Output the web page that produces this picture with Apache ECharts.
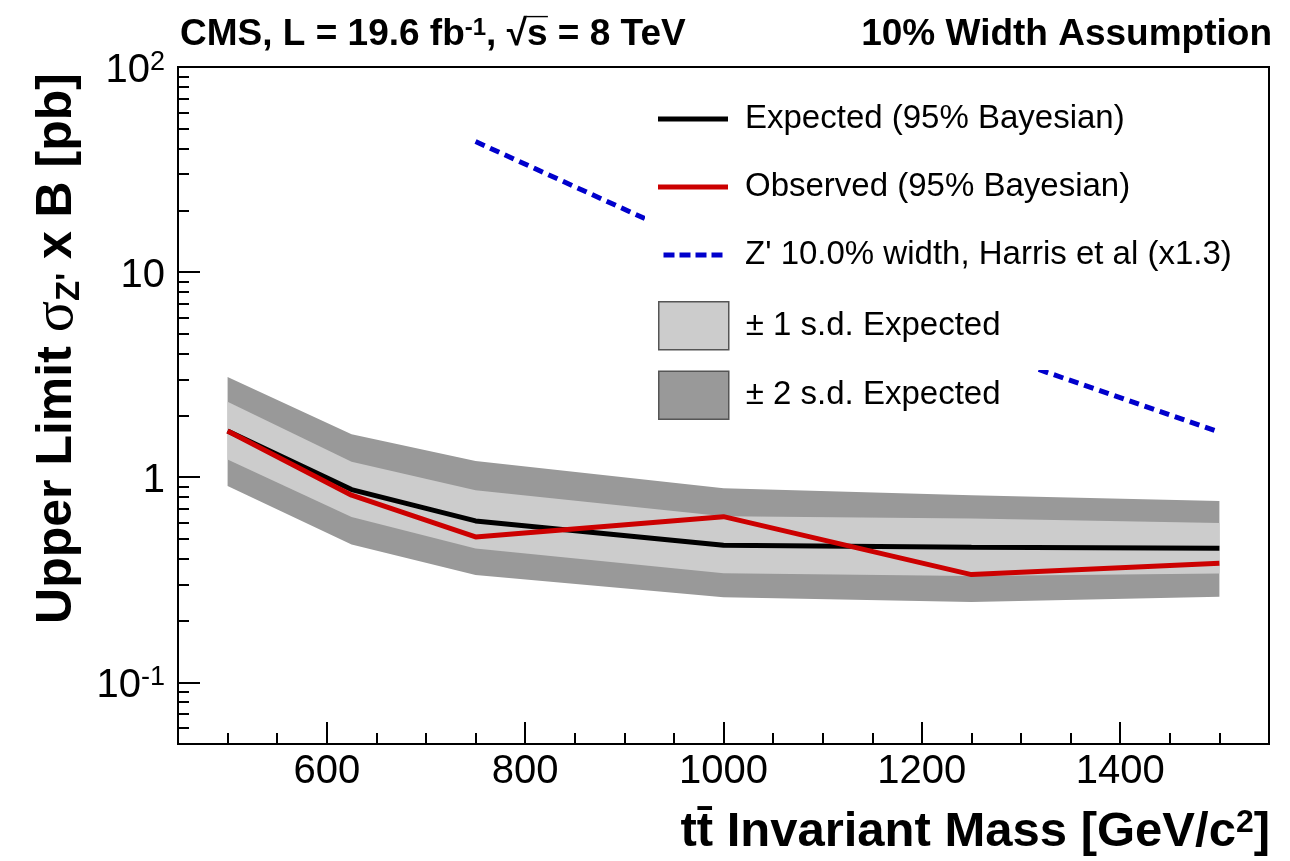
<!DOCTYPE html>
<html><head><meta charset="utf-8">
<script src="https://cdn.jsdelivr.net/npm/echarts@6/dist/echarts.min.js"></script>
<style>html,body{margin:0;padding:0;background:#fff}#c{width:1290px;height:861px}</style>
</head><body><div id="c"></div>
<script>
const mass = [500, 625, 750, 1000, 1250, 1500];
const expected = [1.68, 0.87, 0.612, 0.466, 0.455, 0.450];
const observed = [1.68, 0.817, 0.511, 0.642, 0.335, 0.380];
const band1Up = [2.33, 1.19, 0.863, 0.645, 0.628, 0.598];
const band1Lo = [1.22, 0.64, 0.449, 0.340, 0.330, 0.339];
const band2Up = [3.08, 1.62, 1.20, 0.883, 0.817, 0.766];
const band2Lo = [0.906, 0.469, 0.333, 0.260, 0.246, 0.261];
const zpMass = [750, 1000, 1250, 1500];
const zpXsec = [43.3, 12.2, 4.35, 1.66];
const xMajorTicks = [600, 800, 1000, 1200, 1400];
const xMinorTicks = [500, 550, 650, 700, 750, 850, 900, 950, 1050, 1100, 1150, 1250, 1300, 1350, 1450, 1500];
const yMajorTicks = [0.1, 1, 10, 100];
const yMinorTicks = [0.05, 0.06, 0.07, 0.08, 0.09, 0.2, 0.3, 0.4, 0.5, 0.6, 0.7, 0.8, 0.9,
  2, 3, 4, 5, 6, 7, 8, 9, 20, 30, 40, 50, 60, 70, 80, 90];

const names = {
  exp: 'Expected (95% Bayesian)',
  obs: 'Observed (95% Bayesian)',
  zp: "Z' 10.0% width, Harris et al (x1.3)",
  b1: '\u00b1 1 s.d. Expected',
  b2: '\u00b1 2 s.d. Expected'
};
const FONT = '"Liberation Sans", Arial, Helvetica, sans-serif';
const DASH_ICON = 'path://M0,0h11v5h-11z M16,0h11v5h-11z M32,0h11v5h-11z M48,0h11v5h-11z';

function pairs(xs, ys) { return xs.map((x, i) => [x, ys[i]]); }

function band(name, up, lo, color, z) {
  return {
    type: 'custom', name: name, z: z,
    itemStyle: { color: color },
    data: [[mass[0], up[0]]],
    renderItem: function (params, api) {
      const pts = [];
      for (let i = 0; i < mass.length; i++) pts.push(api.coord([mass[i], up[i]]));
      for (let i = mass.length - 1; i >= 0; i--) pts.push(api.coord([mass[i], lo[i]]));
      return { type: 'polygon', shape: { points: pts }, style: { fill: color } };
    }
  };
}

const chart = echarts.init(document.getElementById('c'));
const supRich = { sup: { fontSize: 27, verticalAlign: 'top', lineHeight: 22, fontFamily: FONT, color: '#000' } };

chart.setOption({
  animation: false,
  backgroundColor: '#fff',
  grid: { left: 178, right: 21, top: 67, bottom: 117, show: true, borderColor: '#000', borderWidth: 2, backgroundColor: 'transparent' },
  xAxis: [
    { type: 'value', min: 450, max: 1550, position: 'bottom',
      axisLine: { show: false }, splitLine: { show: false },
      axisTick: { inside: true, length: 22, lineStyle: { color: '#000', width: 2 }, customValues: xMajorTicks },
      axisLabel: { customValues: xMajorTicks, fontSize: 40, lineHeight: 40, margin: 8, color: '#000', fontFamily: FONT,
        formatter: function (v) { return String(v); } } },
    { type: 'value', min: 450, max: 1550, position: 'bottom',
      axisLine: { show: false }, splitLine: { show: false },
      axisTick: { inside: true, length: 11, lineStyle: { color: '#000', width: 2 }, customValues: xMinorTicks },
      axisLabel: { show: false } }
  ],
  yAxis: [
    { type: 'log', logBase: 10, min: 0.05, max: 100, position: 'left',
      axisLine: { show: false }, splitLine: { show: false },
      axisTick: { inside: true, length: 22, lineStyle: { color: '#000', width: 2 }, customValues: yMajorTicks },
      axisLabel: { customValues: yMajorTicks, fontSize: 40, lineHeight: 44, margin: 13, color: '#000', fontFamily: FONT,
        padding: [8, 0, 0, 0],
        formatter: function (v) {
          const e = Math.round(Math.log10(v));
          if (e === 0) return '1';
          if (e === 1) return '10';
          return '10{sup|' + e + '}';
        },
        rich: supRich } },
    { type: 'log', logBase: 10, min: 0.05, max: 100, position: 'left',
      axisLine: { show: false }, splitLine: { show: false },
      axisTick: { inside: true, length: 11, lineStyle: { color: '#000', width: 2 }, customValues: yMinorTicks },
      axisLabel: { show: false } }
  ],
  legend: [
    { data: [
        { name: names.exp, icon: 'rect' },
        { name: names.obs, icon: 'rect' },
        { name: names.zp, icon: DASH_ICON }
      ],
      orient: 'vertical', left: 645, top: 89,
      padding: [10, 10, 95, 13], itemWidth: 70, itemHeight: 5, itemGap: 28,
      backgroundColor: '#fff', selectedMode: false, z: 4,
      textStyle: { fontSize: 33, lineHeight: 40, color: '#000', fontFamily: FONT, padding: [0, 0, 0, 12] } },
    { data: [names.b1, names.b2], orient: 'vertical', left: 658, top: 301,
      padding: 0, itemWidth: 70, itemHeight: 48, itemGap: 20, icon: 'rect',
      itemStyle: { borderColor: '#555', borderWidth: 1.5 }, selectedMode: false, z: 5,
      textStyle: { fontSize: 33, lineHeight: 40, color: '#000', fontFamily: FONT, padding: [0, 0, 0, 12] } }
  ],
  series: [
    band(names.b2, band2Up, band2Lo, '#999999', 1),
    band(names.b1, band1Up, band1Lo, '#cccccc', 1),
    { type: 'line', name: names.exp, data: pairs(mass, expected), symbol: 'none', z: 3,
      lineStyle: { color: '#000', width: 5 }, itemStyle: { color: '#000' } },
    { type: 'line', name: names.obs, data: pairs(mass, observed), symbol: 'none', z: 3,
      lineStyle: { color: '#cc0000', width: 5 }, itemStyle: { color: '#cc0000' } },
    { type: 'line', name: names.zp, data: pairs(zpMass, zpXsec), symbol: 'none', z: 2,
      lineStyle: { color: '#0000cc', width: 5, type: [10, 6] }, itemStyle: { color: '#0000cc' } }
  ],
  graphic: [
    { type: 'text', x: 180, y: 35, z: 10,
      style: { text: 'CMS, L = 19.6 fb{sup|-1}, \u221as\u0305 = 8 TeV', fill: '#000',
        fontSize: 37, fontWeight: 'bold', fontFamily: FONT,
        align: 'left', verticalAlign: 'middle', textAlign: 'left', textVerticalAlign: 'middle',
        rich: { sup: { fontSize: 24, fontWeight: 'bold', fontFamily: FONT, verticalAlign: 'top', lineHeight: 16 } } } },
    { type: 'text', x: 1272, y: 35, z: 10,
      style: { text: '10% Width Assumption', fill: '#000',
        fontSize: 37, fontWeight: 'bold', fontFamily: FONT,
        align: 'right', verticalAlign: 'middle', textAlign: 'right', textVerticalAlign: 'middle' } },
    { type: 'text', x: 1270, y: 832, z: 10,
      style: { text: 'tt\u0304 Invariant Mass [GeV/c{sup|2}]', fill: '#000',
        fontSize: 49, fontWeight: 'bold', fontFamily: FONT,
        align: 'right', verticalAlign: 'middle', textAlign: 'right', textVerticalAlign: 'middle',
        rich: { sup: { fontSize: 32, fontWeight: 'bold', fontFamily: FONT, verticalAlign: 'top', lineHeight: 22 } } } },
    { type: 'text', x: 57, y: 73, rotation: Math.PI / 2, z: 10,
      style: { text: 'Upper Limit {sig|\u03c3}{sub|Z\'} x B [pb]', fill: '#000',
        fontSize: 50, fontWeight: 'bold', fontFamily: FONT,
        align: 'right', verticalAlign: 'middle', textAlign: 'right', textVerticalAlign: 'middle',
        rich: {
          sig: { fontSize: 58, fontWeight: 'normal', fontFamily: '"Liberation Serif", "Times New Roman", serif' },
          sub: { fontSize: 33, fontWeight: 'bold', fontFamily: FONT, verticalAlign: 'bottom', lineHeight: 30 }
        } } }
  ]
});
</script></body></html>
